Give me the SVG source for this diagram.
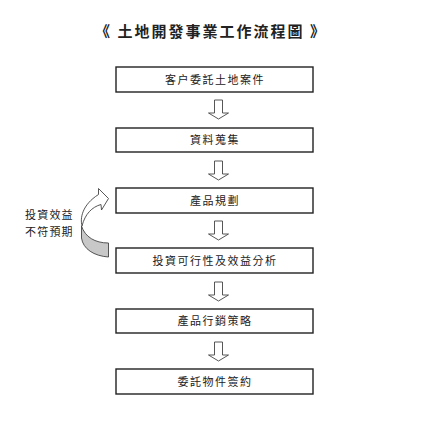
<svg xmlns="http://www.w3.org/2000/svg" width="432" height="433" viewBox="0 0 432 433">
<style>
.box{fill:#fff;stroke:#222;stroke-width:1.4}
.t{font-family:"Noto Sans CJK TC","Noto Sans CJK SC",sans-serif;font-size:11px;fill:#222;letter-spacing:1.5px;text-anchor:middle}
.title{font-family:"Noto Sans CJK TC","Noto Sans CJK SC",sans-serif;font-size:15px;font-weight:bold;fill:#222;letter-spacing:2px;text-anchor:middle}
.arr{fill:#fff;stroke:#444;stroke-width:0.9;stroke-linejoin:miter}
.lt{font-family:"Noto Sans CJK TC","Noto Sans CJK SC",sans-serif;font-size:11px;fill:#222;letter-spacing:1.2px}
</style>
<defs>
<path id="down" d="M -4 0 H 4 V 13 H 10 L 0 19 L -10 13 H -4 Z"/>
</defs>
<rect width="432" height="433" fill="#fff"/>
<text class="title" x="211" y="37">《 土地開發事業工作流程圖 》</text>
<g id="n1"><rect class="box" x="116" y="67" width="197" height="25"/><text class="t" x="215" y="84">客户委託土地案件</text></g>
<g id="n2"><rect class="box" x="116" y="128" width="197" height="24"/><text class="t" x="215" y="144">資料蒐集</text></g>
<g id="n3"><rect class="box" x="116" y="188" width="197" height="25"/><text class="t" x="215" y="204.5">產品規劃</text></g>
<g id="n4"><rect class="box" x="116" y="248" width="197" height="25"/><text class="t" x="215" y="264.5">投資可行性及效益分析</text></g>
<g id="n5"><rect class="box" x="116" y="309" width="197" height="24"/><text class="t" x="215" y="325">產品行銷策略</text></g>
<g id="n6"><rect class="box" x="116" y="369" width="197" height="25"/><text class="t" x="215" y="385.5">委託物件簽約</text></g>
<g id="connectors">
<use href="#down" class="arr" x="218.5" y="100"/>
<use href="#down" class="arr" x="218.5" y="161"/>
<use href="#down" class="arr" x="218.5" y="221"/>
<use href="#down" class="arr" x="218.5" y="282"/>
<use href="#down" class="arr" x="218.5" y="342"/>
<g id="loop">
<path d="M 81.5 226 C 85 237 95 243 108.5 243 L 108.5 257 C 94 256 83 249 81.5 238 Z" fill="#c8c8c8" stroke="#444" stroke-width="0.9"/>
<path d="M 98.5 194.5 L 98.5 188.5 L 108.5 198.5 L 101.5 210 L 101 204.5 C 92 207 85 214 82 226 C 80 218 82 205 98.5 194.5 Z" fill="#fff" stroke="#444" stroke-width="0.9"/>
</g>
</g>
<g id="label">
<text class="lt" x="25" y="219">投資效益</text>
<text class="lt" x="25" y="236">不符預期</text>
</g>
</svg>
